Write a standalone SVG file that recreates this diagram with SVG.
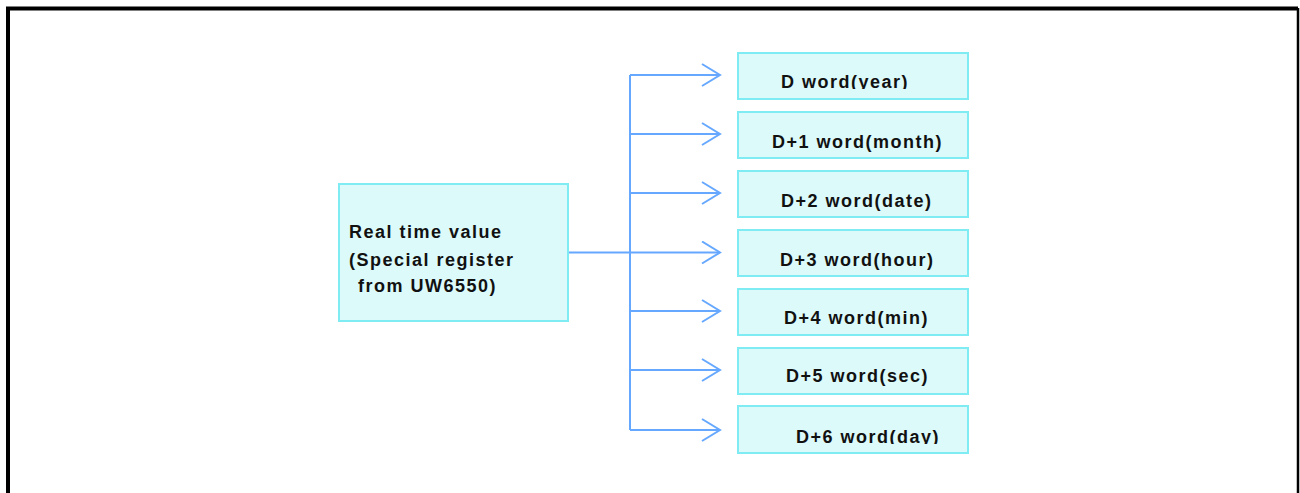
<svg xmlns="http://www.w3.org/2000/svg" width="1300" height="493" viewBox="0 0 1300 493">
<style>
.box{fill:#dcfafa;stroke:#7fecf4;stroke-width:2}
.t{font-family:"Liberation Sans",Arial,sans-serif;font-weight:bold;font-size:18px;letter-spacing:1.5px;fill:#111}
.c{fill:none;stroke:#66a8ff;stroke-width:2}
</style>
<defs>
<marker id="ah" markerUnits="userSpaceOnUse" markerWidth="24" markerHeight="26" refX="20" refY="12" orient="auto">
<path d="M2,1 L20,12 L2,23" fill="none" stroke="#66a8ff" stroke-width="2"/>
</marker>
<clipPath id="cl1"><rect x="738" y="53" width="230" height="36"/></clipPath>
<clipPath id="cl7"><rect x="738" y="406" width="230" height="38"/></clipPath>
</defs>
<rect width="1300" height="493" fill="#fff"/>
<path d="M8,493 V8.5 H1298" fill="none" stroke="#000" stroke-width="4"/>
<path d="M1298,8 V493" fill="none" stroke="#000" stroke-width="2.5"/>
<g id="connectors">
<path class="c" d="M568,252.5 H630 M630,75 V430"/>
<path class="c" marker-end="url(#ah)" d="M630,75 H720"/>
<path class="c" marker-end="url(#ah)" d="M630,134 H720"/>
<path class="c" marker-end="url(#ah)" d="M630,193 H720"/>
<path class="c" marker-end="url(#ah)" d="M630,252.5 H720"/>
<path class="c" marker-end="url(#ah)" d="M630,311 H720"/>
<path class="c" marker-end="url(#ah)" d="M630,370 H720"/>
<path class="c" marker-end="url(#ah)" d="M630,430 H720"/>
</g>
<g id="source">
<rect class="box" x="339" y="184" width="229" height="137"/>
<text class="t" x="349" y="238">Real time value</text>
<text class="t" x="349" y="266">(Special register</text>
<text class="t" x="358" y="292">from UW6550)</text>
</g>
<g id="d0"><rect class="box" x="738" y="53" width="230" height="46"/><text class="t" x="781" y="88" clip-path="url(#cl1)">D word(year)</text></g>
<g id="d1"><rect class="box" x="738" y="112" width="230" height="46"/><text class="t" x="772" y="148">D+1 word(month)</text></g>
<g id="d2"><rect class="box" x="738" y="171" width="230" height="46"/><text class="t" x="781" y="207">D+2 word(date)</text></g>
<g id="d3"><rect class="box" x="738" y="230" width="230" height="46"/><text class="t" x="780" y="266">D+3 word(hour)</text></g>
<g id="d4"><rect class="box" x="738" y="289" width="230" height="46"/><text class="t" x="784" y="324">D+4 word(min)</text></g>
<g id="d5"><rect class="box" x="738" y="348" width="230" height="46"/><text class="t" x="786" y="382">D+5 word(sec)</text></g>
<g id="d6"><rect class="box" x="738" y="406" width="230" height="47"/><text class="t" x="796" y="443" clip-path="url(#cl7)">D+6 word(day)</text></g>
</svg>
